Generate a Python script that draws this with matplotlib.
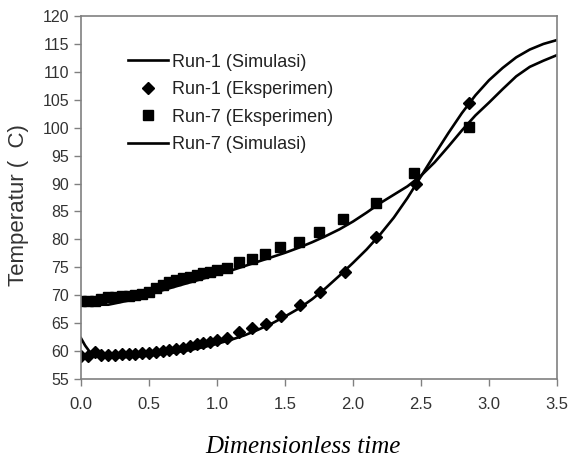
import matplotlib
matplotlib.use("Agg")
import matplotlib.pyplot as plt
from matplotlib.lines import Line2D

# Simulation curves
sim1_t = [0.0, 0.03, 0.06, 0.1, 0.2, 0.3, 0.4, 0.5, 0.6, 0.7, 0.8, 0.9, 1.0, 1.1, 1.2, 1.3, 1.4, 1.5,
          1.6, 1.7, 1.8, 1.9, 2.0, 2.1, 2.2, 2.3, 2.4, 2.5, 2.6, 2.7, 2.8, 2.9, 3.0, 3.1, 3.2, 3.3, 3.4, 3.5]
sim1_T = [62.3, 61.0, 60.0, 59.3, 59.0, 58.9, 59.0, 59.2, 59.5, 59.8, 60.2, 60.7, 61.3, 62.0, 62.8, 63.8, 64.9, 66.2,
          67.6, 69.3, 71.3, 73.5, 75.8, 78.2, 80.9, 83.9, 87.4, 91.3, 95.2, 99.0, 102.6, 105.8, 108.5, 110.7, 112.6, 114.0, 115.0, 115.7]

sim7_t = [0.0, 0.05, 0.1, 0.2, 0.3, 0.4, 0.5, 0.6, 0.7, 0.8, 0.9, 1.0, 1.1, 1.2, 1.3, 1.4, 1.5,
          1.6, 1.7, 1.8, 1.9, 2.0, 2.1, 2.2, 2.3, 2.4, 2.5, 2.6, 2.7, 2.8, 2.9, 3.0, 3.1, 3.2, 3.3, 3.4, 3.5]
sim7_T = [69.0, 68.6, 68.3, 68.3, 68.8, 69.4, 70.1, 70.9, 71.6, 72.3, 73.0, 73.7, 74.4, 75.2, 76.0, 76.8, 77.6,
          78.5, 79.5, 80.6, 81.8, 83.2, 84.8, 86.5, 88.0, 89.5, 91.4, 93.8, 96.6, 99.5, 102.2, 104.5, 106.9, 109.2, 110.9, 112.0, 113.0]

# Experimental points
exp1_t = [0.0, 0.05, 0.1, 0.15, 0.2, 0.25, 0.3, 0.35, 0.4, 0.45, 0.5, 0.55, 0.6, 0.65, 0.7, 0.75, 0.8, 0.85,
          0.9, 0.95, 1.0, 1.07, 1.16, 1.26, 1.36, 1.47, 1.61, 1.76, 1.94, 2.17, 2.46, 2.85]
exp1_T = [59.2, 59.1, 59.8, 59.3, 59.3, 59.3, 59.4, 59.4, 59.5, 59.6, 59.7, 59.9, 60.0, 60.2, 60.4, 60.6, 60.9, 61.2,
          61.5, 61.7, 62.0, 62.4, 63.4, 64.1, 64.9, 66.3, 68.2, 70.6, 74.2, 80.4, 90.0, 104.4]

exp7_t = [0.0, 0.05, 0.1, 0.15, 0.2, 0.25, 0.3, 0.35, 0.4, 0.45, 0.5, 0.55, 0.6, 0.65, 0.7, 0.75, 0.8, 0.85,
          0.9, 0.95, 1.0, 1.07, 1.16, 1.26, 1.35, 1.46, 1.6, 1.75, 1.93, 2.17, 2.45, 2.85]
exp7_T = [69.0, 69.0, 68.9, 69.3, 69.6, 69.7, 69.8, 69.9, 70.0, 70.3, 70.6, 71.3, 71.8, 72.3, 72.7, 73.0, 73.3, 73.6,
          73.9, 74.2, 74.6, 74.9, 75.9, 76.5, 77.4, 78.6, 79.6, 81.4, 83.6, 86.5, 91.9, 100.1]

labels = ["Run-1 (Simulasi)", "Run-1 (Eksperimen)", "Run-7 (Eksperimen)", "Run-7 (Simulasi)"]
xticks = [0.0, 0.5, 1.0, 1.5, 2.0, 2.5, 3.0, 3.5]
yticks = list(range(55, 121, 5))

plt.rcParams['font.family'] = ['Liberation Sans', 'DejaVu Sans']

fig = plt.figure(figsize=(5.71, 4.59), dpi=100)
ax = fig.add_axes([0.1419, 0.1743, 0.8336, 0.7908])

ax.plot(sim1_t, sim1_T, color='black', lw=1.9)
ax.plot(sim7_t, sim7_T, color='black', lw=1.9)
ax.plot(exp1_t, exp1_T, linestyle='none', marker='D', ms=6.5, color='black')
ax.plot(exp7_t, exp7_T, linestyle='none', marker='s', ms=7.0, color='black')

ax.set_xlim(0, 3.5)
ax.set_ylim(55, 120)
ax.set_xticks(xticks)
ax.set_xticklabels([f"{v:.1f}" for v in xticks])
ax.set_yticks(yticks)

for s in ax.spines.values():
    s.set_color('#808080')
    s.set_linewidth(1.2)
ax.tick_params(axis='both', direction='out', length=5, color='#808080', width=1.0,
               labelsize=11.5, labelcolor='#333333')
ax.tick_params(axis='x', labelsize=12, pad=8)

ax.set_ylabel("Temperatur (  C)", fontsize=16, color='#333333')
ax.yaxis.set_label_coords(-0.132, 0.479)
ax.yaxis.label.set_verticalalignment('center')
ax.set_xlabel("Dimensionless time", fontsize=18, family=['Liberation Serif'], style='italic')
ax.xaxis.set_label_coords(0.467, -0.187)
ax.xaxis.label.set_verticalalignment('center')

handles = [Line2D([], [], color='black', lw=1.9),
           Line2D([], [], linestyle='none', marker='D', ms=6.5, color='black'),
           Line2D([], [], linestyle='none', marker='s', ms=7.0, color='black'),
           Line2D([], [], color='black', lw=1.9)]
leg = ax.legend(handles, labels, loc='upper left', bbox_to_anchor=(0.0836, 0.916), frameon=False,
                fontsize=13, handlelength=2.2, handletextpad=0.22, labelspacing=0.58, borderaxespad=0)
for t in leg.get_texts():
    t.set_color('#222222')

fig.savefig("out.png", dpi=100)
